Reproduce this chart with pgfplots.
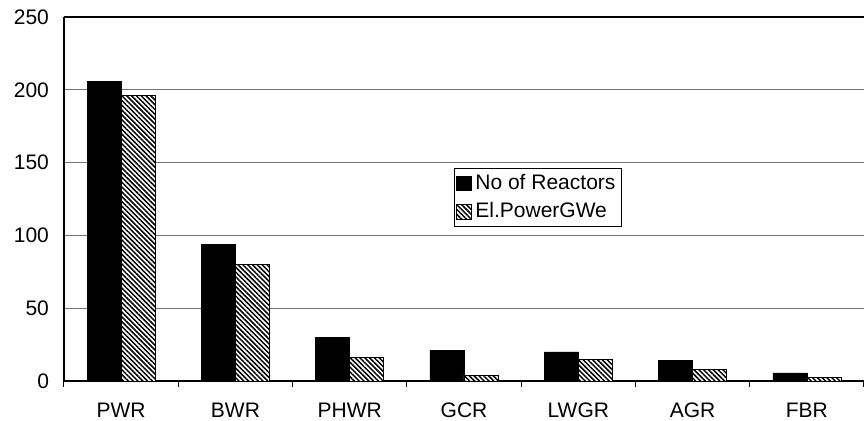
\documentclass[border=0pt]{standalone}
\usepackage{fontspec}
\setmainfont{Liberation Sans}
\usepackage{pgfplots}
\pgfplotsset{compat=1.18}
\usetikzlibrary{patterns.meta}
\begin{document}
\begin{tikzpicture}
\begin{axis}[
    at={(0,0)}, anchor=south west,
    scale only axis,
    width=400pt, height=182pt,
    ybar=0pt, bar width=17pt,
    xmin=-0.5, xmax=6.5,
    ymin=0, ymax=250,
    xtick={0,...,6},
    xticklabels={PWR,BWR,PHWR,GCR,LWGR,AGR,FBR},
    ytick={0,50,...,250},
    ymajorgrids,
    major grid style={black!55, line width=0.4pt},
    axis x line=bottom, axis y line=left,
    axis line style={-, black, line width=0.6pt},
    x tick style={draw=none},
    y tick style={draw=none},
    major tick length=0pt,
    minor xtick={-0.5,0.5,...,6.5},
    minor x tick style={draw=black, line width=0.5pt},
    minor tick length=3pt,
    tick align=outside,
    /pgf/number format/assume math mode=true,
    tick label style={font=\fontsize{10.5}{12}\selectfont},
    xticklabel style={yshift=-7.5pt},
    yticklabel style={xshift=-4pt},
    extra y ticks={250}, extra y tick labels={},
    extra y tick style={grid=major, major grid style={black, line width=0.6pt}},
    legend style={at={(rel axis cs:0.4875,0.585)}, anchor=north west,
        draw=black, line width=0.4pt, font=\fontsize{10.5}{12}\selectfont,
        inner sep=1pt, row sep=1pt, cells={anchor=west}},
    legend image code/.code={\draw[#1, line width=0.3pt] (0pt,-3.6pt) rectangle (7.2pt,3.6pt);},
]
\addplot[fill=black, draw=black, line width=0.3pt] coordinates {
(0,206) (1,94) (2,30) (3,21) (4,20) (5,14) (6,5.5)};
\addplot[draw=black, line width=0.3pt, fill=white,
    postaction={pattern={Lines[angle=-45,distance=1.7pt,line width=0.75pt]}}] coordinates {
(0,196) (1,80) (2,16) (3,4) (4,15) (5,8) (6,2.5)};
\legend{No of Reactors, El.PowerGWe}
\end{axis}
\pgfresetboundingbox
\path[use as bounding box] (-32pt,-20pt) rectangle (400pt,190.5pt);
\end{tikzpicture}
\end{document}
